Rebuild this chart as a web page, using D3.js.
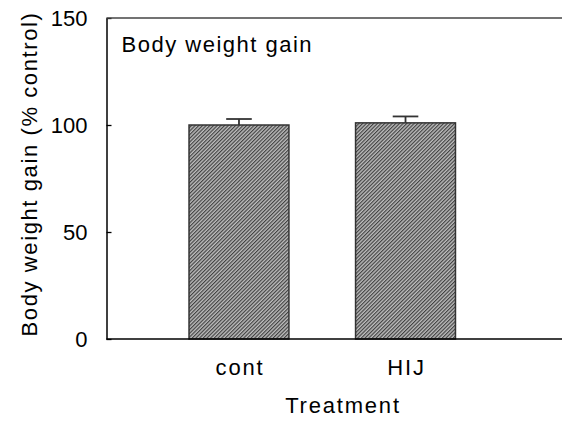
<!DOCTYPE html>
<html>
<head>
<meta charset="utf-8">
<script src="https://cdn.jsdelivr.net/npm/d3@7/dist/d3.min.js"></script>
<style>
  html, body { margin: 0; padding: 0; background: #fff; }
  svg { display: block; }
  text { font-family: "Liberation Sans", Arial, sans-serif; fill: #000; }
</style>
</head>
<body>
<svg id="chart" width="562" height="421"></svg>
<script>
// Body weight gain, expressed as % of control, mean with upper error bar
const categories = ["cont", "HIJ"];
const gainMean = [100, 101];
const gainErr = [2.8, 3.0];
const yTicks = [0, 50, 100, 150];
const panelTitle = "Body weight gain";
const yTitle = "Body weight gain (% control)";
const xTitle = "Treatment";

const svg = d3.select("#chart");
const W = 562, H = 421;
const plotLeft = 106.5, plotTop = 18, plotBottom = 339;

const y = d3.scaleLinear().domain([0, 150]).range([plotBottom, plotTop]);
const x = d3.scaleBand()
  .domain(categories)
  .range([plotLeft, 538])
  .paddingInner(0.4)
  .paddingOuter(0.4955);

// diagonal hatch fill for the bars
const defs = svg.append("defs");
const pat = defs.append("pattern")
  .attr("id", "hatch")
  .attr("patternUnits", "userSpaceOnUse")
  .attr("width", 2.6)
  .attr("height", 10)
  .attr("patternTransform", "rotate(45)");
pat.append("rect").attr("width", 2.6).attr("height", 10).attr("fill", "#bdbdbd");
pat.append("line")
  .attr("x1", 0.6).attr("y1", 0).attr("x2", 0.6).attr("y2", 10)
  .attr("stroke", "#3a3a3a").attr("stroke-width", 1.1);

// bars
svg.append("g").selectAll("rect")
  .data(categories)
  .join("rect")
  .attr("x", d => x(d))
  .attr("y", (d, i) => y(gainMean[i]))
  .attr("width", x.bandwidth())
  .attr("height", (d, i) => y(0) - y(gainMean[i]))
  .attr("fill", "url(#hatch)")
  .attr("stroke", "#333")
  .attr("stroke-width", 1.5);

// upper error bars
const eb = svg.append("g").attr("stroke", "#333").attr("stroke-width", 1.8);
categories.forEach((c, i) => {
  const cx = x(c) + x.bandwidth() / 2;
  eb.append("line")
    .attr("x1", cx).attr("x2", cx)
    .attr("y1", y(gainMean[i])).attr("y2", y(gainMean[i] + gainErr[i]));
  eb.append("line")
    .attr("x1", cx - 12.8).attr("x2", cx + 12.8)
    .attr("y1", y(gainMean[i] + gainErr[i])).attr("y2", y(gainMean[i] + gainErr[i]));
});

// y axis with inward ticks
const yAxis = svg.append("g")
  .attr("transform", `translate(${plotLeft},0)`)
  .call(d3.axisLeft(y).tickValues(yTicks).tickSizeInner(-5).tickSizeOuter(0).tickPadding(19));
yAxis.select(".domain").attr("stroke", "#000").attr("stroke-width", 1.5);
yAxis.selectAll(".tick line").attr("stroke", "#000").attr("stroke-width", 1.3);
yAxis.selectAll(".tick text")
  .attr("font-size", 22)
  .attr("font-family", "Liberation Sans, Arial, sans-serif")
  .attr("fill", "#000")
  .attr("dy", "0.34em");

// x axis line and top frame line
svg.append("line")
  .attr("x1", plotLeft).attr("x2", W).attr("y1", plotBottom).attr("y2", plotBottom)
  .attr("stroke", "#000").attr("stroke-width", 1.5);
svg.append("line")
  .attr("x1", plotLeft).attr("x2", W).attr("y1", plotTop).attr("y2", plotTop)
  .attr("stroke", "#444").attr("stroke-width", 1.5);

// category labels
svg.append("g").selectAll("text")
  .data(categories)
  .join("text")
  .attr("x", d => x(d) + x.bandwidth() / 2 + 1)
  .attr("y", 375)
  .attr("text-anchor", "middle")
  .attr("font-size", 22)
  .attr("letter-spacing", 1.8)
  .text(d => d);

// axis titles and panel title
svg.append("text")
  .attr("x", 343).attr("y", 413)
  .attr("text-anchor", "middle")
  .attr("font-size", 22)
  .attr("letter-spacing", 1.8)
  .text(xTitle);

svg.append("text")
  .attr("transform", "translate(37,174) rotate(-90)")
  .attr("text-anchor", "middle")
  .attr("font-size", 22)
  .attr("letter-spacing", 1.6)
  .text(yTitle);

svg.append("text")
  .attr("x", 121.5).attr("y", 51.5)
  .attr("font-size", 22)
  .attr("letter-spacing", 1.5)
  .text(panelTitle);
</script>
</body>
</html>
